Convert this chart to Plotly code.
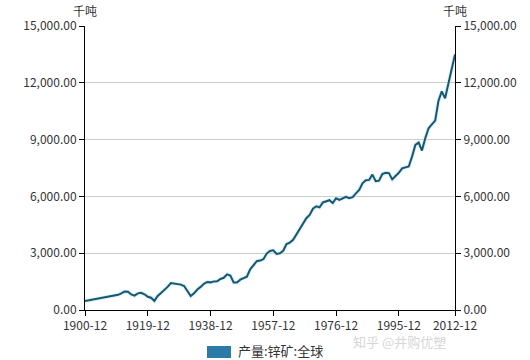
import plotly.graph_objects as go

years = list(range(1900, 2013))
production = [
    480, 510, 540, 570, 600, 640, 680, 720, 740, 760,
    800, 880, 980, 970, 820, 760, 880, 910, 830, 700,
    650, 480, 740, 900, 1050, 1220, 1420, 1400, 1360, 1340,
    1270, 1000, 740, 880, 1080, 1220, 1380, 1480, 1460, 1510,
    1520, 1640, 1700, 1880, 1820, 1450, 1450, 1600, 1700, 1760,
    2150, 2380, 2580, 2610, 2680, 2980, 3120, 3150, 2960, 3000,
    3130, 3480, 3560, 3710, 4000, 4320, 4560, 4850, 5020, 5350,
    5480, 5420, 5680, 5720, 5800, 5650, 5900, 5820, 5900, 5980,
    5910, 5960, 6160, 6340, 6690, 6850, 6870, 7150, 6800, 6830,
    7180, 7250, 7230, 6900, 7080, 7250, 7480, 7550, 7580, 8100,
    8720, 8840, 8420, 9070, 9600, 9800, 10000, 11050, 11550, 11180,
    12000, 12800, 13500,
]
tick_years = [1900, 1919, 1938, 1957, 1976, 1995, 2012]
tick_labels = [f"{y}-12" for y in tick_years]
y_ticks = [0, 3000, 6000, 9000, 12000, 15000]
series_name = "产量:锌矿:全球"
unit = "千吨"

FONT = "Noto Sans CJK SC"
fig = go.Figure()
fig.add_trace(go.Scatter(x=years, y=production, mode="lines",
                         line=dict(color="rgba(190,235,248,0.6)", width=4),
                         hoverinfo="skip", showlegend=False))
fig.add_trace(go.Scatter(x=years, y=production, mode="lines", name=series_name,
                         line=dict(color="#1b5670", width=2), showlegend=False))
fig.add_trace(go.Scatter(x=years, y=production, mode="lines", yaxis="y2",
                         line=dict(color="rgba(0,0,0,0)", width=0),
                         hoverinfo="skip", showlegend=False))

axis_common = dict(range=[0, 15000], tickvals=y_ticks, tickformat=",.2f",
                   showline=True, linecolor="#000", linewidth=1,
                   ticks="outside", ticklen=5, tickcolor="#000",
                   tickfont=dict(family=FONT, size=12, color="#333"),
                   zeroline=False, fixedrange=True, automargin=False)

fig.update_layout(
    width=530, height=360,
    margin=dict(l=85, r=75, t=26, b=50),
    paper_bgcolor="white", plot_bgcolor="white",
    showlegend=False,
    xaxis=dict(range=[1900, 2012], tickvals=tick_years, ticktext=tick_labels,
               showline=True, linecolor="#000", linewidth=1,
               ticks="outside", ticklen=5, tickcolor="#000",
               showgrid=False, zeroline=False, automargin=False,
               tickfont=dict(family=FONT, size=12, color="#333")),
    yaxis=dict(showgrid=True, gridcolor="#cccccc", gridwidth=1, **axis_common),
    yaxis2=dict(overlaying="y", side="right", showgrid=False, **axis_common),
    annotations=[
        dict(text=unit, xref="paper", yref="paper", x=0, y=1.056,
             xanchor="center", yanchor="middle", showarrow=False,
             font=dict(family=FONT, size=12, color="#333")),
        dict(text=unit, xref="paper", yref="paper", x=1, y=1.056,
             xanchor="center", yanchor="middle", showarrow=False,
             font=dict(family=FONT, size=12, color="#333")),
        dict(text=series_name, xref="paper", yref="paper", x=0.408, y=-0.141,
             xanchor="left", yanchor="middle", showarrow=False,
             font=dict(family=FONT, size=13, color="#333")),
        dict(text="知乎 @井购优塑", xref="paper", yref="paper", x=0.851, y=-0.112,
             xanchor="center", yanchor="middle", showarrow=False,
             font=dict(family=FONT, size=13, color="#d6d6d6")),
    ],
    shapes=[
        dict(type="rect", xref="paper", yref="paper",
             x0=0.3297, x1=0.3946, y0=-0.169, y1=-0.1268,
             fillcolor="#2b7aa8", line=dict(width=0)),
    ],
)

fig.write_html("out.html", config={"displayModeBar": False},
               post_script="document.body.style.margin='0';")
